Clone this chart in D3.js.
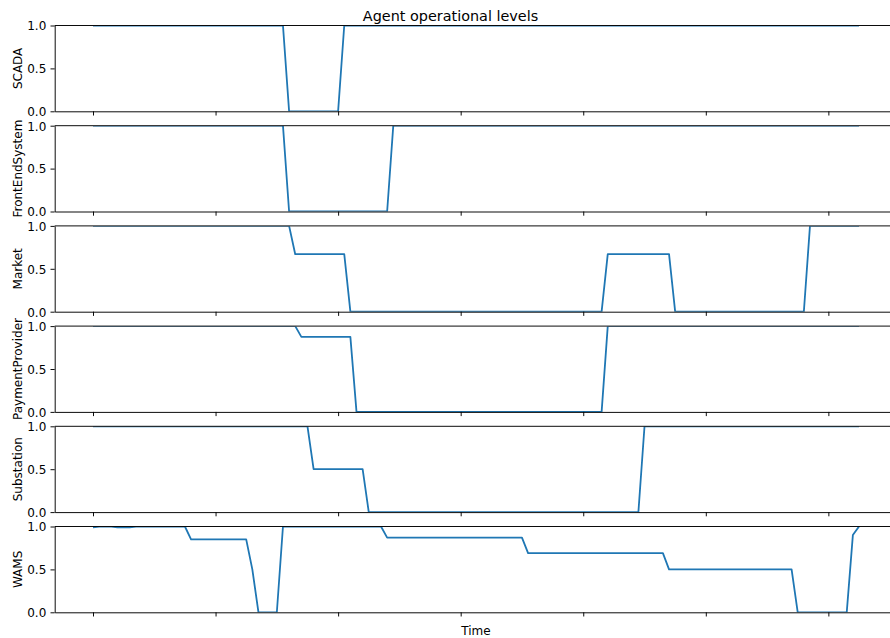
<!DOCTYPE html>
<html>
<head>
<meta charset="utf-8">
<script src="https://cdn.jsdelivr.net/npm/d3@7"></script>
<style>
  body { margin: 0; background: #fff; }
  svg { display: block; font-family: "DejaVu Sans", sans-serif; }
</style>
</head>
<body>
<div id="chart"></div>
<script>
// agents, one subplot each
var agents = ["SCADA", "FrontEndSystem", "Market", "PaymentProvider", "Substation", "WAMS"];

// vertices of each series (time step, operational level)
var scadaT = [0, 31, 32, 40, 41, 125];
var scadaV = [1, 1, 0, 0, 1, 1];

var frontEndT = [0, 31, 32, 48, 49, 125];
var frontEndV = [1, 1, 0, 0, 1, 1];

var marketT = [0, 32, 33, 41, 42, 83, 84, 94, 95, 116, 117, 125];
var marketV = [1, 1, 0.67, 0.67, 0, 0, 0.67, 0.67, 0, 0, 1, 1];

var paymentT = [0, 33, 34, 42, 43, 83, 84, 125];
var paymentV = [1, 1, 0.875, 0.875, 0, 0, 1, 1];

var substationT = [0, 35, 36, 44, 45, 89, 90, 125];
var substationV = [1, 1, 0.5, 0.5, 0, 0, 1, 1];

var wamsT = [0, 1, 3, 4, 6, 7, 15, 16, 25, 26, 27, 30, 31, 47, 48, 70, 71, 93, 94, 114, 115, 123, 124, 125];
var wamsV = [0.99, 1, 1, 0.99, 0.99, 1, 1, 0.85, 0.85, 0.5, 0, 0, 1, 1, 0.87, 0.87, 0.69, 0.69, 0.5, 0.5, 0, 0, 0.9, 1];

var seriesT = [scadaT, frontEndT, marketT, paymentT, substationT, wamsT];
var seriesV = [scadaV, frontEndV, marketV, paymentV, substationV, wamsV];

var xTicks = [0, 20, 40, 60, 80, 100, 120];
var yTicks = [0, 0.5, 1];

// figure layout
var width = 890, height = 638;
var left = 54.7, right = 897.3;
var top0 = 25.5, step = 100.2, axH = 85.8;

var svg = d3.select("#chart")
  .append("svg")
  .attr("width", width)
  .attr("height", height);

var x = d3.scaleLinear()
  .domain([-6.25, 131.25])
  .range([left, right]);

agents.forEach(function (name, i) {
  var t = top0 + i * step;
  var y = d3.scaleLinear().domain([0, 1]).range([t + axH, t]);

  var g = svg.append("g");

  // clip to the axes box (line at 1.0 mostly hides under the top spine)
  svg.append("clipPath")
    .attr("id", "clip" + i)
    .append("rect")
    .attr("x", left)
    .attr("y", t + 0.3)
    .attr("width", right - left)
    .attr("height", axH - 0.3);

  var pts = seriesT[i].map(function (d, j) { return [d, seriesV[i][j]]; });

  g.append("path")
    .datum(pts)
    .attr("clip-path", "url(#clip" + i + ")")
    .attr("fill", "none")
    .attr("stroke", "#1f77b4")
    .attr("stroke-width", 1.8)
    .attr("stroke-linejoin", "round")
    .attr("d", d3.line()
      .x(function (d) { return x(d[0]); })
      .y(function (d) { return y(d[1]); }));

  // top spine
  g.append("line")
    .attr("x1", left).attr("x2", right)
    .attr("y1", t).attr("y2", t)
    .attr("stroke", "#000")
    .attr("stroke-width", 0.96);

  // x axis (ticks only, labels hidden)
  var xa = g.append("g")
    .attr("transform", "translate(0," + (t + axH) + ")")
    .call(d3.axisBottom(x).tickValues(xTicks).tickFormat("").tickSize(4.2).tickSizeOuter(0));

  // y axis
  var ya = g.append("g")
    .attr("transform", "translate(" + left + ",0)")
    .call(d3.axisLeft(y).tickValues(yTicks).tickFormat(d3.format(".1f"))
      .tickSize(4.2).tickPadding(4.2).tickSizeOuter(0));

  [xa, ya].forEach(function (a) {
    a.select(".domain").attr("stroke", "#000").attr("stroke-width", 0.96);
    a.selectAll(".tick line").attr("stroke", "#000").attr("stroke-width", 0.96);
  });
  ya.selectAll(".tick text")
    .attr("font-size", 12)
    .attr("font-family", "DejaVu Sans")
    .attr("fill", "#000")
    .attr("dy", "0.36em");

  // y label
  g.append("text")
    .attr("transform", "translate(21.5," + (t + axH / 2) + ") rotate(-90)")
    .attr("text-anchor", "middle")
    .attr("font-size", 12)
    .attr("fill", "#000")
    .text(name);
});

// title
svg.append("text")
  .attr("x", 450.5)
  .attr("y", 20.5)
  .attr("text-anchor", "middle")
  .attr("font-size", 14.4)
  .attr("fill", "#000")
  .text("Agent operational levels");

// x label
svg.append("text")
  .attr("x", (left + right) / 2)
  .attr("y", 635)
  .attr("text-anchor", "middle")
  .attr("font-size", 12)
  .attr("fill", "#000")
  .text("Time");
</script>
</body>
</html>
